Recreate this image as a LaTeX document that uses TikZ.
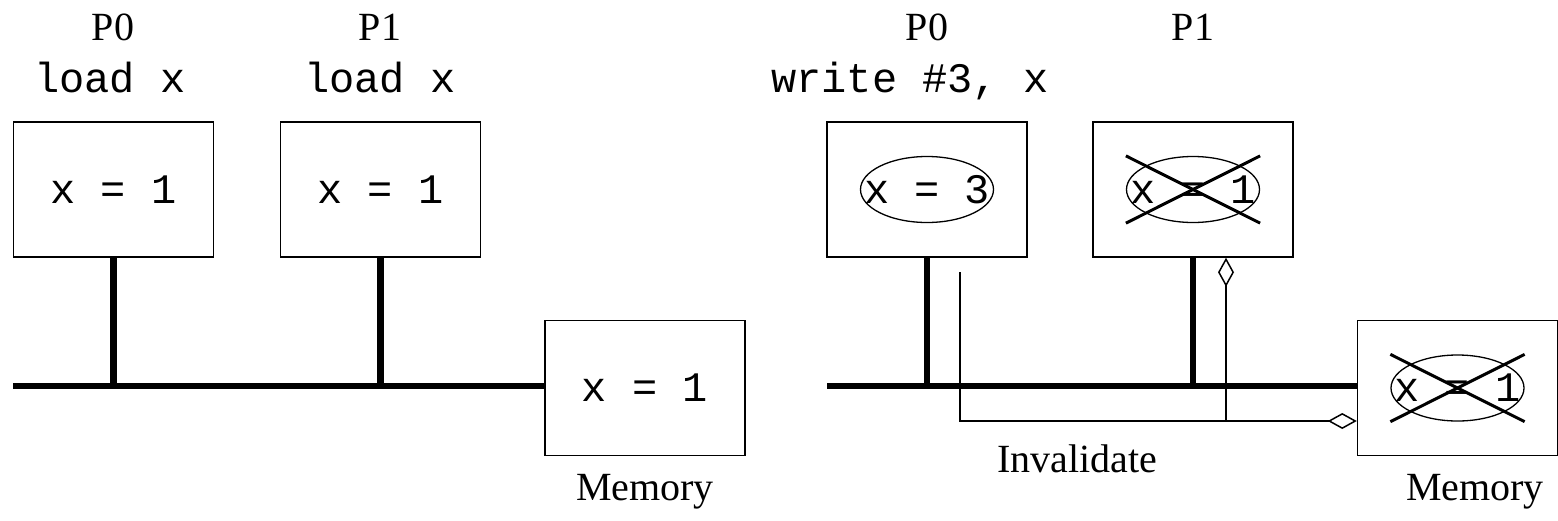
\documentclass[tikz,border=0pt]{standalone}
\usepackage{fontspec}
\setmainfont{Liberation Serif}
\setmonofont{Liberation Mono}
\usetikzlibrary{arrows.meta,shapes.geometric,positioning}
\tikzset{
  cache/.style={draw, line width=1.5pt, minimum width=200pt, minimum height=135pt, inner sep=0pt},
  val/.style={font=\fontsize{42}{46}\selectfont\ttfamily, inner sep=0pt},
  lbl/.style={font=\fontsize{40}{44}\selectfont, anchor=base, inner sep=0pt},
  op/.style={font=\fontsize{42}{46}\selectfont\ttfamily, anchor=base, inner sep=0pt},
  bus/.style={line width=6.5pt},
  oval/.style={draw, ellipse, line width=1.3pt, minimum width=133pt, minimum height=66pt, inner sep=0pt},
  cross/.style={line width=3pt},
  inval/.style={line width=1.5pt, -{Diamond[open,length=29pt,width=16pt]}}
}
\begin{document}
\begin{tikzpicture}[x=1pt,y=-1pt]
            \useasboundingbox (0,0) rectangle (1558,520);

            % left half: both caches read x
            \node[lbl] (lp0name) at (113,40) {P0};
            \node[lbl] (lp1name) at (380,40) {P1};
            \node[op] (lp0op) at (110,92) {load x};
            \node[op] (lp1op) at (380,92) {load x};

            \node[cache] (lp0) at (113.5,189.5) {};
            \node[cache] (lp1) at (380.5,189.5) {};
            \node[val] (lp0val) at (lp0.center) {x = 1};
            \node[val] (lp1val) at (lp1.center) {x = 1};

            \node[cache] (lmem) at (645,388) {};
            \node[val] (lmemval) at (lmem.center) {x = 1};
            \node[lbl] (lmemname) at (645,500) {Memory};

            \coordinate (lbus) at (13,386);
            \draw[bus] (lbus) -- (lmem.west |- lbus);
            \draw[bus] (lp0.south) -- (lp0.south |- lbus);
            \draw[bus] (lp1.south) -- (lp1.south |- lbus);

            % right half: P0 writes, other copies invalidated
            \node[lbl] (rp0name) at (927,40) {P0};
            \node[lbl] (rp1name) at (1193,40) {P1};
            \node[op] (rp0op) at (910,92) {write \#3, x};

            \node[cache] (rp0) at (927,189.5) {};
            \node[cache] (rp1) at (1193,189.5) {};
            \node[oval] (rp0oval) at (rp0.center) {};
            \node[oval] (rp1oval) at (rp1.center) {};
            \node[val] (rp0val) at (rp0.center) {x = 3};
            \node[val] (rp1val) at (rp1.center) {x = 1};
            \draw[cross] (rp1oval.west |- rp1oval.north) -- (rp1oval.east |- rp1oval.south);
            \draw[cross] (rp1oval.west |- rp1oval.south) -- (rp1oval.east |- rp1oval.north);

            \node[cache] (rmem) at (1457.5,388) {};
            \node[oval] (rmemoval) at (rmem.center) {};
            \node[val] (rmemval) at (rmem.center) {x = 1};
            \draw[cross] (rmemoval.west |- rmemoval.north) -- (rmemoval.east |- rmemoval.south);
            \draw[cross] (rmemoval.west |- rmemoval.south) -- (rmemoval.east |- rmemoval.north);
            \node[lbl] (rmemname) at (1475,500) {Memory};

            \coordinate (rbus) at (827,386);
            \draw[bus] (rbus) -- (rmem.west |- rbus);
            \draw[bus] (rp0.south) -- (rp0.south |- rbus);
            \draw[bus] (rp1.south) -- (rp1.south |- rbus);

            \coordinate (inv) at (960,272);
            \coordinate (tap) at (1226,421);
            \draw[inval] (inv) |- (rmem.west |- tap);
            \draw[inval] (tap) -- (tap |- rp1.south);
            \node[lbl] (invname) at (1077,472) {Invalidate};
        \end{tikzpicture}
\end{document}
